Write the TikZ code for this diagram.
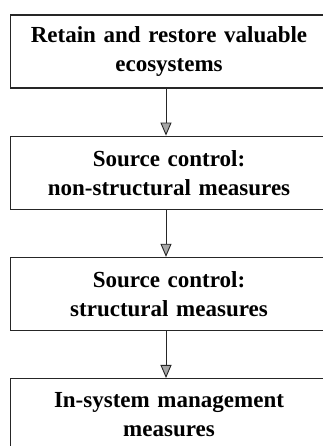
\documentclass[tikz,border=0pt]{standalone}
\usepackage{fontspec}
\setmainfont{Liberation Serif}
\usetikzlibrary{arrows.meta, positioning}

\tikzset{
  stage/.style={draw=black!85, line width=1.2pt, minimum width=316pt, minimum height=73pt,
    text width=310pt, align=center, font=\fontsize{23}{29}\selectfont\bfseries},
  flow/.style={-{Triangle[length=13pt, width=11pt, fill=gray!70]}, line width=0.9pt, black!85}
}

\begin{document}
\begin{tikzpicture}[x=1pt, y=1pt, node distance=47pt]
        \clip (0,0) rectangle (323,446);

        % Stages
        \node[stage] (retain) at (169,394.5) {Retain and restore valuable\\ecosystems};
        \node[stage, below=of retain] (nonstruct) {Source control:\\non-structural measures};
        \node[stage, below=of nonstruct] (struct) {Source control:\\structural measures};
        \node[stage, below=of struct] (insystem) {In-system management\\measures};

        % Arrows
        \draw[flow] ([xshift=-3pt]retain.south) -- ([xshift=-3pt]nonstruct.north);
        \draw[flow] ([xshift=-3pt]nonstruct.south) -- ([xshift=-3pt]struct.north);
        \draw[flow] ([xshift=-3pt]struct.south) -- ([xshift=-3pt]insystem.north);
    \end{tikzpicture}
\end{document}
